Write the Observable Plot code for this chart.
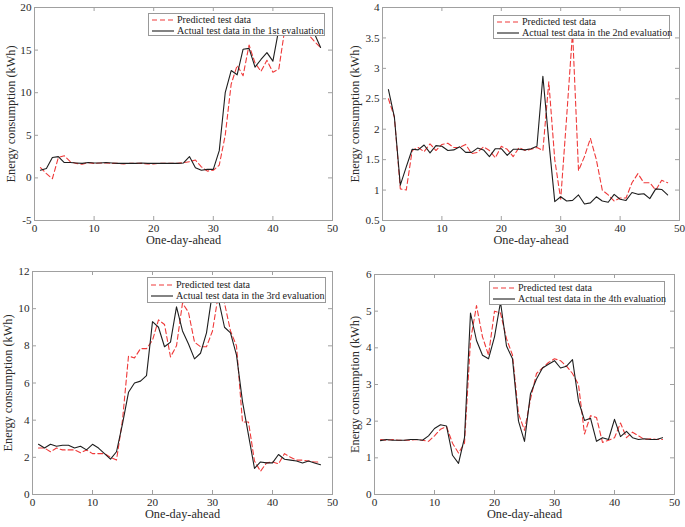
<!DOCTYPE html>
<html><head><meta charset="utf-8">
<script src="https://cdn.jsdelivr.net/npm/d3@7"></script>
<script src="https://cdn.jsdelivr.net/npm/@observablehq/plot@0.6"></script>
<style>
body{margin:0;background:#fff}
#wrap{position:relative;width:685px;height:527px;font-family:"Liberation Serif","Times New Roman",Times,"DejaVu Serif",serif;overflow:hidden}
#wrap svg, #wrap svg text{font-family:"Liberation Serif","Times New Roman",Times,"DejaVu Serif",serif !important}
.panel{position:absolute}
.legend{position:absolute;background:#fff;border:1px solid #999;box-sizing:border-box;font-size:10.1px;color:#222;padding:1px 0 0 3px}
.legend .row{height:11px;line-height:11px;white-space:nowrap;display:flex;align-items:center}
.legend svg{margin-right:3px;flex:none}
</style></head>
<body><div id="wrap"></div>
<script>
const steps = [1,2,3,4,5,6,7,8,9,10,11,12,13,14,15,16,17,18,19,20,21,22,23,24,25,26,27,28,29,30,31,32,33,34,35,36,37,38,39,40,41,42,43,44,45,46,47,48];
const xTicks = [0,10,20,30,40,50];

const actual1 = [0.9,1.1,2.4,2.5,1.8,1.8,1.75,1.7,1.8,1.75,1.75,1.8,1.75,1.7,1.7,1.7,1.7,1.75,1.7,1.7,1.7,1.7,1.7,1.7,1.75,2.5,1.2,0.9,1.0,1.0,3.2,10.0,12.6,12.1,15.1,15.2,13.0,13.9,14.7,13.7,17.5,18.0,18.2,18.0,17.8,17.4,16.9,15.3];
const pred1   = [1.2,0.5,-0.1,2.4,2.6,1.9,1.7,1.6,1.8,1.7,1.75,1.75,1.7,1.7,1.65,1.7,1.7,1.7,1.65,1.65,1.7,1.7,1.7,1.7,1.8,1.9,2.1,1.3,0.8,0.9,1.5,5.0,11.0,13.2,12.0,15.6,13.5,12.5,13.8,12.4,12.8,17.5,18.0,17.8,17.4,16.8,16.0,15.3];

const actual2 = [2.65,2.2,1.08,1.38,1.67,1.66,1.74,1.61,1.73,1.72,1.65,1.66,1.71,1.62,1.62,1.69,1.66,1.55,1.68,1.68,1.57,1.67,1.67,1.66,1.68,1.72,2.87,1.8,0.81,0.89,0.82,0.83,0.92,0.77,0.79,0.89,0.82,0.8,0.93,0.85,0.83,0.96,0.93,0.94,0.86,1.02,1.01,0.92];
const pred2   = [2.5,2.2,1.02,1.0,1.65,1.7,1.63,1.76,1.65,1.75,1.77,1.7,1.7,1.75,1.6,1.62,1.71,1.65,1.53,1.72,1.67,1.55,1.7,1.65,1.67,1.7,1.65,2.78,1.5,0.85,2.2,3.6,1.32,1.55,1.85,1.5,1.0,0.92,0.82,0.87,0.87,1.12,1.27,1.12,1.12,1.0,1.16,1.12];

const actual3 = [2.7,2.5,2.7,2.6,2.65,2.65,2.5,2.6,2.4,2.7,2.5,2.2,1.9,2.3,3.8,5.5,6.0,6.1,6.4,9.3,9.0,7.95,8.2,10.1,8.8,8.1,7.3,7.6,8.7,10.9,10.5,9.0,8.7,7.5,5.0,3.2,1.4,1.75,1.7,1.7,2.15,1.9,1.85,1.8,1.7,1.8,1.7,1.6];
const pred3   = [2.5,2.5,2.3,2.5,2.4,2.4,2.4,2.25,2.4,2.2,2.2,2.2,2.0,1.85,4.0,7.45,7.35,7.85,7.85,8.3,9.4,9.15,7.4,8.0,10.3,9.8,8.2,7.95,7.95,8.8,10.8,10.3,8.8,8.0,3.9,3.9,1.8,1.25,1.7,1.75,1.65,2.2,2.0,1.85,1.85,1.8,1.75,1.75];

const actual4 = [1.47,1.5,1.48,1.48,1.48,1.5,1.5,1.48,1.6,1.8,1.9,1.87,1.07,0.85,1.55,4.95,4.2,3.8,3.7,4.3,5.25,4.05,3.7,2.0,1.45,2.75,3.15,3.45,3.55,3.65,3.45,3.5,3.68,2.55,2.02,2.08,1.45,1.55,1.5,2.05,1.58,1.72,1.55,1.5,1.52,1.5,1.5,1.55];
const pred4   = [1.5,1.48,1.5,1.48,1.48,1.48,1.5,1.48,1.45,1.6,1.78,1.85,1.4,1.13,1.4,4.2,5.15,4.3,3.8,5.0,4.95,4.25,3.8,2.2,1.75,2.6,3.3,3.45,3.6,3.7,3.65,3.5,3.3,3.0,1.65,2.15,2.1,1.42,1.48,1.55,1.95,1.55,1.7,1.6,1.5,1.52,1.5,1.5];

const yTicks1 = [-5,0,5,10,15,20];
const yTicks2 = [0.5,1,1.5,2,2.5,3,3.5,4];
const yTicks3 = [0,2,4,6,8,10,12];
const yTicks4 = [0,1,2,3,4,5,6];

const xLabel = "One-day-ahead";
const yLabel = "Energy consumption (kWh)";
const predLabel = "Predicted test data";
const actualLabels = ["Actual test data in the 1st evaluation","Actual test data in the 2nd evaluation","Actual test data in the 3rd evaluation","Actual test data in the 4th evaluation"];

const RED = "#ef3a3a", BLACK = "#1e1e1e", AXIS = "#a0a0a0";
const FONT = "'Liberation Serif', 'Times New Roman', Times, 'DejaVu Serif', serif";

const panels = [
  {left:0, top:0, width:342, height:262, ml:34, mr:10, mt:7, mb:42, yOff:28, ticks:yTicks1, actual:actual1, pred:pred1,
   leg:{left:148, top:13, width:177, height:23}},
  {left:342, top:0, width:343, height:262, ml:40, mr:6, mt:7, mb:42, yOff:32, ticks:yTicks2, actual:actual2, pred:pred2,
   leg:{left:493, top:15, width:177, height:24}},
  {left:0, top:262, width:342, height:265, ml:32, mr:10, mt:9, mb:33, yOff:29, ticks:yTicks3, actual:actual3, pred:pred3,
   leg:{left:147, top:277, width:179, height:26}},
  {left:342, top:262, width:343, height:265, ml:32, mr:11, mt:12, mb:33, yOff:24, ticks:yTicks4, actual:actual4, pred:pred4,
   leg:{left:489, top:281, width:176, height:24}}
];

const wrap = document.getElementById("wrap");
panels.forEach((c, k) => {
  const data = steps.map((s, i) => ({x: s, a: c.actual[i], p: c.pred[i]}));
  const iw = c.width - c.ml - c.mr, ih = c.height - c.mt - c.mb;
  const chart = Plot.plot({
    width: c.width, height: c.height,
    marginLeft: c.ml, marginRight: c.mr, marginTop: c.mt, marginBottom: c.mb,
    style: {fontFamily: FONT, fontSize: "11.2px", color: "#2a2a2a", background: "transparent", overflow: "visible"},
    x: {domain: [0, 50]},
    y: {domain: [c.ticks[0], c.ticks[c.ticks.length - 1]]},
    marks: [
      Plot.ruleX(xTicks, {x: d => d, insetTop: ih - 4, stroke: AXIS}),
      Plot.ruleX(xTicks, {x: d => d, insetBottom: ih - 4, stroke: AXIS}),
      Plot.ruleY(c.ticks, {y: d => d, insetRight: iw - 4, stroke: AXIS}),
      Plot.ruleY(c.ticks, {y: d => d, insetLeft: iw - 4, stroke: AXIS}),
      Plot.line(data, {x: "x", y: "p", stroke: RED, strokeWidth: 1.1, strokeDasharray: "5,3"}),
      Plot.line(data, {x: "x", y: "a", stroke: BLACK, strokeWidth: 1.1}),
      Plot.frame({stroke: AXIS}),
      Plot.axisX({ticks: xTicks, tickSize: 0, tickPadding: 4, tickFormat: d => String(d), label: null}),
      Plot.axisY({ticks: c.ticks, tickSize: 0, tickPadding: 3, tickFormat: d => String(d), label: null}),
      Plot.text([xLabel], {frameAnchor: "bottom", dy: 20, lineAnchor: "middle", fontSize: 12.3, fill: "#2a2a2a"}),
      Plot.text([yLabel], {frameAnchor: "left", dx: -c.yOff, rotate: -90, lineAnchor: "top", textAnchor: "middle", fontSize: 12.3, fill: "#2a2a2a"})
    ]
  });
  chart.classList.add("panel");
  chart.style.left = c.left + "px";
  chart.style.top = c.top + "px";
  wrap.appendChild(chart);

  const lg = document.createElement("div");
  lg.className = "legend";
  Object.assign(lg.style, {left: c.leg.left + "px", top: c.leg.top + "px", width: c.leg.width + "px", height: c.leg.height + "px"});
  const rows = [[predLabel, RED, "5,3"], [actualLabels[k], BLACK, null]];
  rows.forEach(([txt, col, dash]) => {
    const r = document.createElement("div");
    r.className = "row";
    r.innerHTML = `<svg width="22" height="8"><line x1="0" x2="22" y1="4" y2="4" stroke="${col}" stroke-width="1.1" ${dash ? `stroke-dasharray="${dash}"` : ""}/></svg><span></span>`;
    r.querySelector("span").textContent = txt;
    lg.appendChild(r);
  });
  lg.style.paddingTop = Math.max(0, (c.leg.height - 2 - 22) / 2) + "px";
  wrap.appendChild(lg);
});
</script>
</body></html>
